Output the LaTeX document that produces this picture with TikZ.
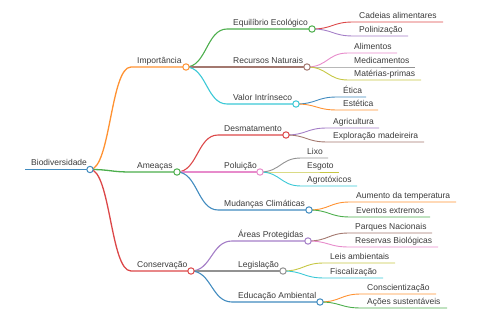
\documentclass[tikz,border=0pt]{standalone}
\usepackage{fontspec}
\setmainfont{Liberation Sans}
\definecolor{cA0}{HTML}{1F77B4}
\definecolor{cB0}{HTML}{FF7F0E}
\definecolor{cC0}{HTML}{2CA02C}
\definecolor{cD0}{HTML}{D62728}
\definecolor{cE0}{HTML}{9467BD}
\definecolor{cF0}{HTML}{8C564B}
\definecolor{cG0}{HTML}{E377C2}
\definecolor{cH0}{HTML}{7F7F7F}
\definecolor{cI0}{HTML}{BCBD22}
\definecolor{cJ0}{HTML}{17BECF}
\colorlet{cA}{cA0!85!white}
\colorlet{cB}{cB0!85!white}
\colorlet{cC}{cC0!85!white}
\colorlet{cD}{cD0!85!white}
\colorlet{cE}{cE0!85!white}
\colorlet{cF}{cF0!80!white}
\colorlet{cG}{cG0!85!white}
\colorlet{cH}{cH0!85!white}
\colorlet{cI}{cI0!85!white}
\colorlet{cJ}{cJ0!85!white}
\definecolor{txt}{HTML}{3A3A3A}
\tikzset{
  lbl/.style={inner sep=0pt, anchor=base west, text=txt, font=\fontsize{8.5}{10}\selectfont},
  lvA/.style={line width=1.6pt},
  lvB/.style={line width=1.3pt},
  lvC/.style={line width=1.1pt},
  lvD/.style={line width=0.9pt},
  knob/.style={circle, fill=white, line width=1pt, minimum size=6.4pt, inner sep=0pt},
}
% name, parent, xs, xe, y, style, text
\newcommand{\mmitem}[7]{%
  \coordinate (#1s) at (#3,#5);
  \coordinate (#1e) at (#4,#5);
  \node[lbl] (#1) at ({#3+6},{#5-3.5}) {#7};
  \draw[#6] (#2e) .. controls +(20.5,0) and +(-20.5,0) .. (#1s) -- (#1e);
}
\begin{document}
\begin{tikzpicture}[x=1pt,y=-1pt]
\useasboundingbox (0,0) rectangle (480,320);
% root
\coordinate (roots) at (25,169.5);
\coordinate (roote) at (90,169.5);
\node[lbl] (root) at (31,166) {Biodiversidade};
\draw[cA,lvA] (roots) -- (roote);
% level 1
\mmitem{imp}{root}{131}{186}{67}{cB,lvB}{Importância}
\mmitem{ame}{root}{131}{177}{172}{cC,lvB}{Ameaças}
\mmitem{con}{root}{131}{191}{271}{cD,lvB}{Conservação}
% level 2
\mmitem{equ}{imp}{227}{312}{29}{cC,lvC}{Equilíbrio Ecológico}
\mmitem{rec}{imp}{227}{307}{67}{cF,lvC}{Recursos Naturais}
\mmitem{val}{imp}{227}{296}{104}{cJ,lvC}{Valor Intrínseco}
\mmitem{des}{ame}{218}{286}{135}{cD,lvC}{Desmatamento}
\mmitem{pol}{ame}{218}{260}{172}{cG,lvC}{Poluição}
\mmitem{mud}{ame}{218}{309}{210}{cA,lvC}{Mudanças Climáticas}
\mmitem{are}{con}{232}{308}{241}{cE,lvC}{Áreas Protegidas}
\mmitem{leg}{con}{232}{283}{271}{cH,lvC}{Legislação}
\mmitem{edu}{con}{232}{320}{302}{cA,lvC}{Educação Ambiental}
% level 3
\mmitem{cad}{equ}{353}{443}{22}{cD,lvD}{Cadeias alimentares}
\mmitem{poli}{equ}{353}{408}{36}{cE,lvD}{Polinização}
\mmitem{ali}{rec}{348}{397}{53}{cG,lvD}{Alimentos}
\mmitem{med}{rec}{348}{415}{67}{cH,lvD}{Medicamentos}
\mmitem{mat}{rec}{348}{421}{80}{cI,lvD}{Matérias-primas}
\mmitem{eti}{val}{337}{366}{97}{cA,lvD}{Ética}
\mmitem{est}{val}{337}{378}{110}{cB,lvD}{Estética}
\mmitem{agr}{des}{327}{379}{128}{cE,lvD}{Agricultura}
\mmitem{exp}{des}{327}{424}{142}{cF,lvD}{Exploração madeireira}
\mmitem{lix}{pol}{301}{328}{158}{cH,lvD}{Lixo}
\mmitem{esg}{pol}{301}{339}{172}{cI,lvD}{Esgoto}
\mmitem{agt}{pol}{301}{357}{186}{cJ,lvD}{Agrotóxicos}
\mmitem{aum}{mud}{350}{456}{202}{cB,lvD}{Aumento da temperatura}
\mmitem{eve}{mud}{350}{430}{217}{cC,lvD}{Eventos extremos}
\mmitem{par}{are}{349}{432}{233}{cF,lvD}{Parques Nacionais}
\mmitem{res}{are}{349}{438}{247}{cG,lvD}{Reservas Biológicas}
\mmitem{lei}{leg}{324}{395}{263}{cI,lvD}{Leis ambientais}
\mmitem{fis}{leg}{324}{383}{278}{cJ,lvD}{Fiscalização}
\mmitem{cons}{edu}{361}{436}{294}{cB,lvD}{Conscientização}
\mmitem{aco}{edu}{361}{447}{308}{cC,lvD}{Ações sustentáveis}
% knobs
\node[knob,draw=cA] (rootk) at (roote) {};
\node[knob,draw=cB] (impk) at (impe) {};
\node[knob,draw=cC] (amek) at (amee) {};
\node[knob,draw=cD] (conk) at (cone) {};
\node[knob,draw=cC] (equk) at (eque) {};
\node[knob,draw=cF] (reck) at (rece) {};
\node[knob,draw=cJ] (valk) at (vale) {};
\node[knob,draw=cD] (desk) at (dese) {};
\node[knob,draw=cG] (polk) at (pole) {};
\node[knob,draw=cA] (mudk) at (mude) {};
\node[knob,draw=cE] (arek) at (aree) {};
\node[knob,draw=cH] (legk) at (lege) {};
\node[knob,draw=cA] (eduk) at (edue) {};
\end{tikzpicture}
\end{document}
